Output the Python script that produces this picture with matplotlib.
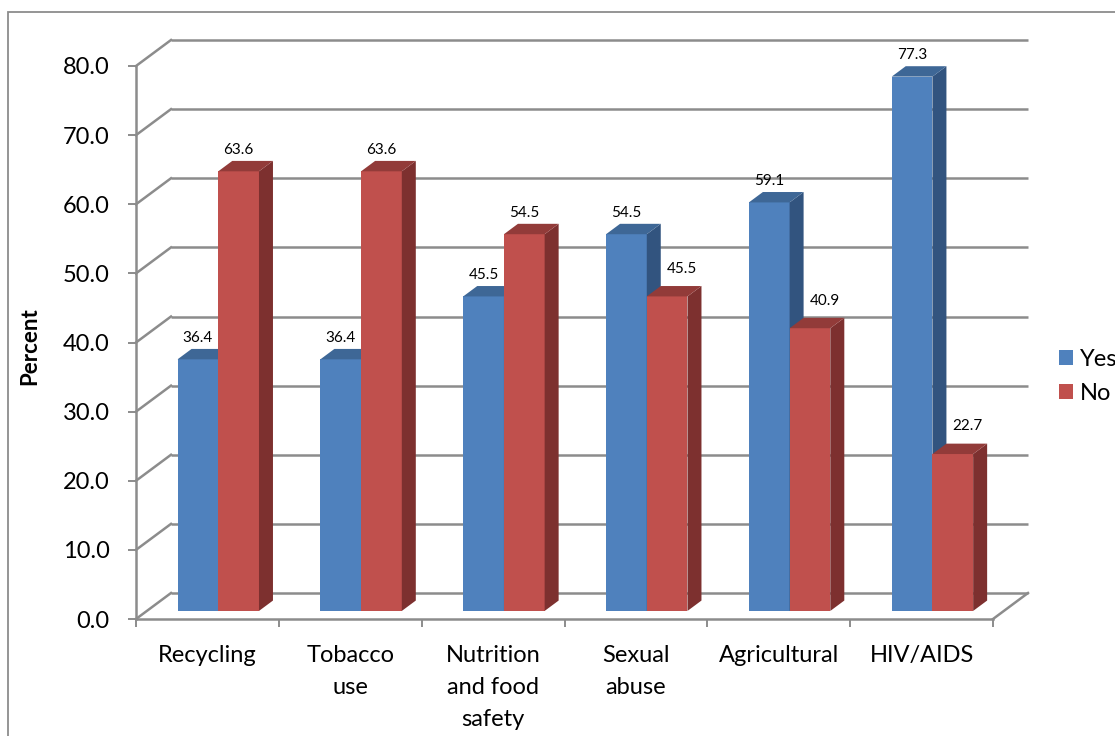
import matplotlib
matplotlib.use("Agg")
import matplotlib.pyplot as plt
from matplotlib.patches import Polygon, Rectangle, Patch

# --- data ---
categories = ["Recycling", "Tobacco\nuse", "Nutrition\nand food\nsafety",
              "Sexual\nabuse", "Agricultural", "HIV/AIDS"]
series_names = ["Yes", "No"]
yes_values = [36.4, 36.4, 45.5, 54.5, 59.1, 77.3]
no_values = [63.6, 63.6, 54.5, 45.5, 40.9, 22.7]
y_ticks = [0, 10, 20, 30, 40, 50, 60, 70, 80]

# --- style ---
plt.rcParams["font.family"] = ["Lato", "DejaVu Sans"]
GRID = "#8c8c8c"
FACES = {
    "Yes": dict(front="#4f81bd", side="#32547f", top="#3e6796"),
    "No": dict(front="#c0504d", side="#7d302f", top="#923b39"),
}
DX, DY = 0.245, 3.76          # depth of the chart box (x in categories, y in %)
BAR_FRONT, BAR_DEPTH = 0.31, 0.40   # bar position within the depth
BAR_W = 0.285                 # width of one bar in category units

W, H = 1115, 736
fig = plt.figure(figsize=(W / 100, H / 100), dpi=100)
ax = fig.add_axes([136 / W, 117 / H, 857 / W, 553 / H])
ax.set_xlim(0, len(categories))
ax.set_ylim(0, 80)

# chart border
fig.patches.append(Rectangle((8 / W, -0.2), 1.5, 1.2 - 12 / H, transform=fig.transFigure,
                             fill=False, edgecolor=GRID, lw=1.3))

n = len(categories)
# back wall gridlines and left wall diagonals
for v in y_ticks:
    ax.plot([DX, n + DX], [v + DY, v + DY], color=GRID, lw=1.8, zorder=1,
            clip_on=False, solid_capstyle="butt")
    ax.plot([0, DX], [v, v + DY], color=GRID, lw=1.8, zorder=1, clip_on=False)
# right floor edge
ax.plot([n, n + DX], [0, DY], color=GRID, lw=1.8, zorder=1, clip_on=False)

# bars
gap = (1 - 2 * BAR_W) / 2
fx, fy = BAR_FRONT * DX, BAR_FRONT * DY
bdx, bdy = BAR_DEPTH * DX, BAR_DEPTH * DY
z = 3
for i in range(n):
    vals = [yes_values[i], no_values[i]]
    for j, name in enumerate(series_names):
        v = vals[j]
        x0 = i + gap + j * BAR_W + fx
        x1 = x0 + BAR_W
        yb, yt = fy, v + fy
        c = FACES[name]
        ax.add_patch(Rectangle((x0, yb), BAR_W, v, facecolor=c["front"],
                               edgecolor="none", zorder=z, clip_on=False))
        ax.add_patch(Polygon([(x1, yb), (x1 + bdx, yb + bdy), (x1 + bdx, yt + bdy), (x1, yt)],
                             closed=True, facecolor=c["side"], edgecolor="none",
                             zorder=z, clip_on=False))
        ax.add_patch(Polygon([(x0, yt), (x1, yt), (x1 + bdx, yt + bdy), (x0 + bdx, yt + bdy)],
                             closed=True, facecolor=c["top"], edgecolor="none",
                             zorder=z, clip_on=False))
        z += 1
        # value label, nudged right when the bar beside it is taller
        lx, ly = x0 + BAR_W / 2, yt + bdy + 1.0
        if j == 1 and vals[0] > vals[1]:
            lx += 0.105
            ly += 0.9
        ax.text(lx, ly, f"{v:.1f}", ha="center", va="baseline", fontsize=11,
                color="black", zorder=20, clip_on=False)

# axes styling
for s in ("top", "right"):
    ax.spines[s].set_visible(False)
for s in ("left", "bottom"):
    ax.spines[s].set_color(GRID)
    ax.spines[s].set_linewidth(1.8)
    ax.spines[s].set_zorder(2)
ax.patch.set_visible(False)

ax.set_yticks(y_ticks)
ax.set_yticklabels([f"{t:.1f}" for t in y_ticks])
ax.tick_params(axis="y", direction="out", length=6, width=1.4, color=GRID,
               pad=13, labelsize=17)

ax.set_xticks(range(n + 1))
ax.set_xticklabels([])
ax.set_xticks([i + 0.5 for i in range(n)], minor=True)
ax.set_xticklabels(categories, minor=True, fontsize=17, linespacing=1.65)
ax.tick_params(axis="x", which="major", direction="out", length=6, width=1.4, color=GRID)
ax.tick_params(axis="x", which="minor", length=0, pad=19)

fig.text(30 / W, 1 - 346 / H, "Percent", rotation=90, fontsize=16, fontweight="bold",
         ha="center", va="center")

handles = [Patch(facecolor=FACES[s]["front"], edgecolor="none") for s in series_names]
fig.legend(handles, series_names, loc="center left",
           bbox_to_anchor=(1059 / W, 1 - 376.5 / H), frameon=False, fontsize=17,
           handlelength=0.6, handleheight=0.6, handletextpad=0.3, labelspacing=0.55,
           borderpad=0, borderaxespad=0)

fig.savefig("out.png", dpi=100)
